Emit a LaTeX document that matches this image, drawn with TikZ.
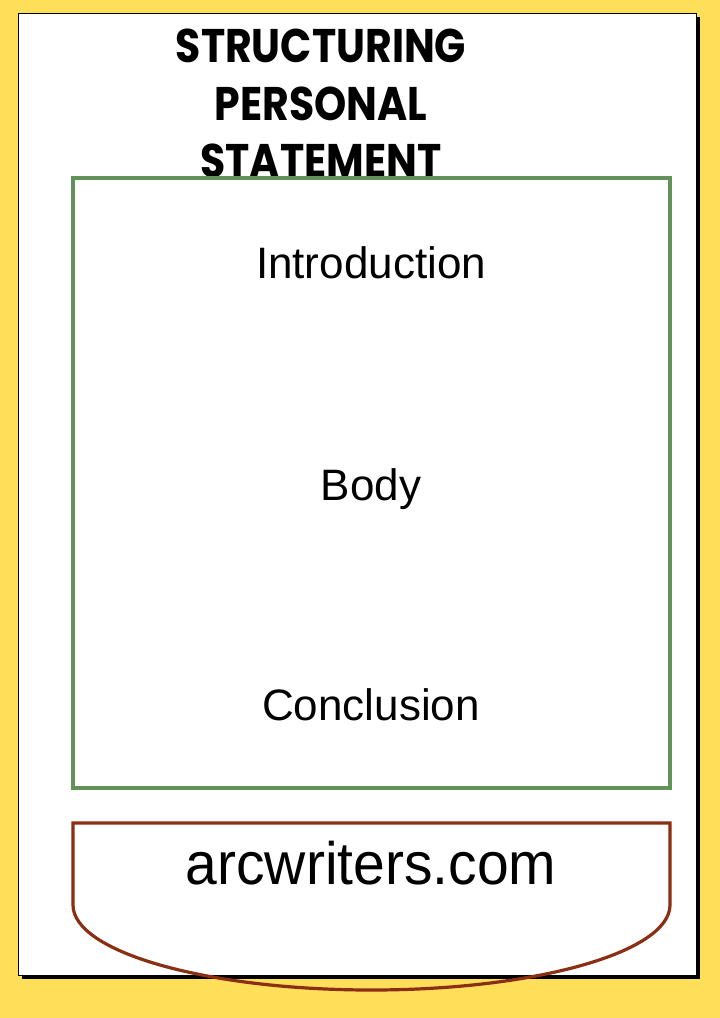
\documentclass[tikz,border=0pt]{standalone}
\usepackage{fontspec}
\setmainfont{Liberation Sans}
\newfontfamily\titlefont{Poppins}[UprightFont=* Bold]
\definecolor{pageyellow}{RGB}{255,222,89}
\definecolor{boxgreen}{RGB}{98,146,88}
\definecolor{rimbrown}{RGB}{138,46,20}

\begin{document}
\begin{tikzpicture}[
		x=1pt,y=-1pt,
		every node/.style={inner sep=0pt,anchor=base},
		heading/.style={font=\titlefont\fontsize{41}{41}\selectfont,yscale=1.15},
		part/.style={font=\fontsize{44}{44}\selectfont},
		site/.style={font=\fontsize{57}{57}\selectfont,yscale=1.05}
		]
		% background and page
		\fill[pageyellow] (0,0) rectangle (720,1018);
		\useasboundingbox (0,0) rectangle (720,1018);
		\fill[black] (22,17) rectangle (700,979);
		\filldraw[fill=white,draw=black,line width=0.8pt] (18,13) rectangle (696,975);
		
		\node[heading] (head1) at (321,62) {STRUCTURING};
		\node[heading] (head2) at (321,120) {PERSONAL};
		\node[heading] (head3) at (321,177) {STATEMENT};
		
		\draw[boxgreen,line width=3.2pt] (73,178) rectangle (670,788);
		\node[part] (intro) at (371,278) {Introduction};
		\node[part] (body) at (371,500) {Body};
		\node[part] (concl) at (371,720) {Conclusion};
		
		\draw[rimbrown,line width=3.2pt] (73,905) -- (73,823) -- (670,823) -- (670,905)
		arc[start angle=0,end angle=180,x radius=298.5,y radius=85] -- cycle;
		\node[site] (web) at (371,884) {arcwriters.com};
		\end{tikzpicture}
\end{document}
